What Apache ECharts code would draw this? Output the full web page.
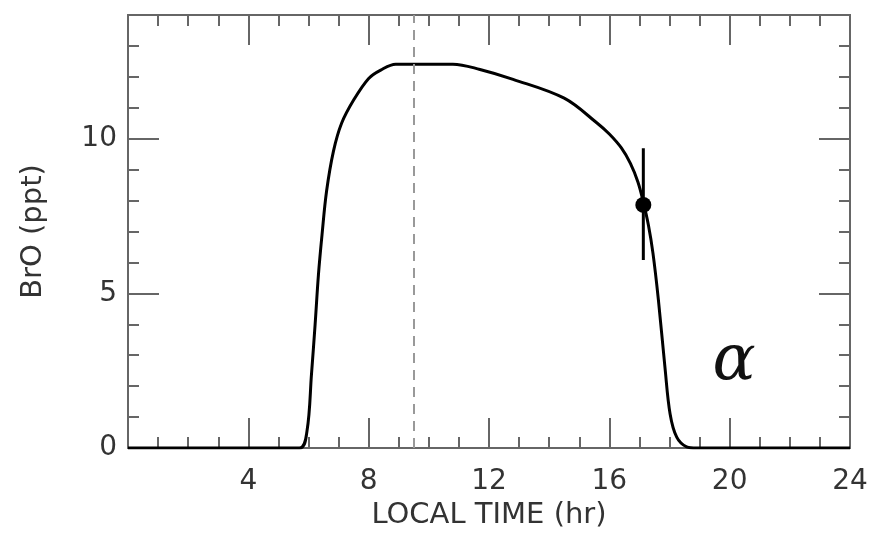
<!DOCTYPE html>
<html>
<head>
<meta charset="utf-8">
<script src="https://cdn.jsdelivr.net/npm/echarts@6/dist/echarts.min.js"></script>
<style>
  html, body { margin: 0; padding: 0; background: #fff; }
  #chart { width: 869px; height: 533px; }
</style>
</head>
<body>
<div id="chart"></div>
<script>
// modelled BrO over the day
const hours = [0, 5.7, 5.95, 6.1, 6.22, 6.33, 6.45, 6.6, 6.83, 7.1, 7.5, 8.0, 8.4, 8.9, 10.8, 11.7, 12.8, 14.5, 15.6, 16.0, 16.4, 16.7, 16.95, 17.13, 17.3, 17.45, 17.63, 17.85, 18.02, 18.24, 18.57, 18.9, 24];
const bro = [0, 0, 0.55, 2.4, 4.0, 5.6, 6.9, 8.3, 9.6, 10.5, 11.25, 11.95, 12.22, 12.41, 12.41, 12.24, 11.92, 11.31, 10.5, 10.15, 9.7, 9.2, 8.6, 7.95, 7.2, 6.3, 4.8, 2.6, 1.1, 0.35, 0.04, 0, 0];

// the single observation with its error bar
const obsHour = [17.13];
const obsBro = [7.86];
const obsLow = [6.08];
const obsHigh = [9.69];

const noonHour = 9.5;          // dashed vertical line
const xTickLabels = [4, 8, 12, 16, 20, 24];
const yTickLabels = [0, 5, 10];

const axisGray = '#666';
const labelFont = { fontFamily: 'DejaVu Sans', fontSize: 28, color: '#333' };

function xAxisCfg(pos, withLabels) {
    return {
        type: 'value', position: pos, min: 0, max: 24, interval: 4,
        axisLine: { onZero: false, lineStyle: { color: axisGray, width: 2 } },
        axisTick: { inside: true, length: 30, lineStyle: { color: axisGray, width: 2 } },
        minorTick: { show: true, splitNumber: 4, length: 11, lineStyle: { color: axisGray, width: 2 } },
        splitLine: { show: false },
        axisLabel: Object.assign({
            show: withLabels, margin: 20,
            formatter: v => xTickLabels.includes(v) ? String(v) : ''
        }, labelFont),
        name: withLabels ? 'LOCAL TIME (hr)' : '',
        nameLocation: 'middle', nameGap: 52,
        nameTextStyle: { fontFamily: 'DejaVu Sans', fontSize: 29, color: '#333' }
    };
}

function yAxisCfg(pos, step, tickLen, withLabels) {
    return {
        type: 'value', position: pos, min: 0, max: 14, interval: step, offset: 0,
        axisLine: { onZero: false, lineStyle: { color: axisGray, width: 2 } },
        axisTick: { inside: true, length: tickLen, lineStyle: { color: axisGray, width: 2 } },
        splitLine: { show: false },
        axisLabel: Object.assign({
            show: withLabels, margin: 11,
            formatter: v => yTickLabels.includes(v) ? String(v) : ''
        }, labelFont),
        name: withLabels ? 'BrO (ppt)' : '',
        nameLocation: 'middle', nameGap: 80, nameRotate: 90,
        nameTextStyle: { fontFamily: 'DejaVu Sans', fontSize: 29, color: '#333' }
    };
}

const chart = echarts.init(document.getElementById('chart'));

chart.setOption({
    animation: false,
    backgroundColor: '#fff',
    grid: { left: 128, right: 19, top: 15, bottom: 85, outerBoundsMode: 'none' },
    xAxis: [xAxisCfg('bottom', true), xAxisCfg('top', false)],
    yAxis: [
        yAxisCfg('left', 1, 11, false),
        yAxisCfg('left', 5, 31, true),
        yAxisCfg('right', 1, 11, false),
        yAxisCfg('right', 5, 31, false)
    ],
    graphic: [{
        type: 'text', z: 10,
        style: {
            x: 734, y: 362,
            text: 'α', font: 'italic 64px "DejaVu Serif"', fill: '#111',
            align: 'center', verticalAlign: 'middle'
        }
    }],
    series: [
        {
            type: 'line', name: 'model',
            data: hours.map((h, i) => [h, bro[i]]),
            smooth: 0.35, symbol: 'none',
            lineStyle: { color: '#000', width: 3 },
            markLine: {
                silent: true, symbol: 'none', label: { show: false },
                lineStyle: { color: '#999', width: 2, type: [10, 7] },
                data: [{ xAxis: noonHour }]
            },
            z: 3
        },
        {
            type: 'line', name: 'error',
            data: [[obsHour[0], obsLow[0]], [obsHour[0], obsHigh[0]]],
            symbol: 'none',
            lineStyle: { color: '#000', width: 3 },
            z: 4
        },
        {
            type: 'scatter', name: 'obs',
            data: obsHour.map((h, i) => [h, obsBro[i]]),
            symbol: 'circle', symbolSize: 16,
            itemStyle: { color: '#000', opacity: 1 },
            z: 5
        }
    ]
});
</script>
</body>
</html>
